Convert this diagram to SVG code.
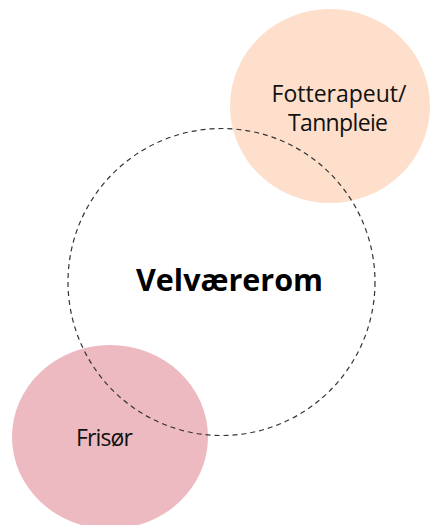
<svg xmlns="http://www.w3.org/2000/svg" width="430" height="525" viewBox="0 0 430 525">
<style>
.lbl{font-family:"Open Sans","Liberation Sans",sans-serif;font-size:23px;fill:#111;text-anchor:middle}
.main{font-family:"Open Sans","Liberation Sans",sans-serif;font-size:30.5px;font-weight:bold;fill:#000;text-anchor:middle}
</style>
<rect width="430" height="525" fill="#fff"/>
<g id="fotterapeut">
<ellipse cx="330" cy="106" rx="100" ry="97" fill="#FDDFCB"/>
<text class="lbl" x="339" y="102" textLength="135">Fotterapeut/</text>
<text class="lbl" x="338" y="131" textLength="100">Tannpleie</text>
</g>
<g id="frisor">
<ellipse cx="110" cy="437" rx="98" ry="92" fill="#ECBAC0"/>
<text class="lbl" x="104.5" y="446" textLength="57">Frisør</text>
</g>
<g id="connectors"></g>
<g id="velvaererom">
<circle cx="221.5" cy="282" r="153.5" fill="none" stroke="#333" stroke-width="1.2" stroke-dasharray="5,4"/>
<text class="main" x="229.5" y="291">Velværerom</text>
</g>
</svg>
